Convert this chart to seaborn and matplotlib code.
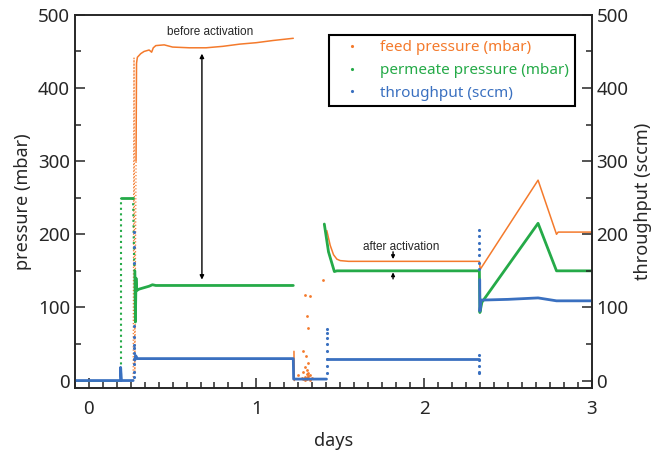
import matplotlib.pyplot as plt
import seaborn as sns
import pandas as pd
from matplotlib.lines import Line2D
from matplotlib.ticker import MultipleLocator

sns.set_style('ticks')
plt.rcParams['font.family'] = ['Noto Sans', 'DejaVu Sans']

ORANGE = '#F47A2C'
GREEN = '#25AA48'
BLUE = '#3A70C0'

# feed pressure (mbar), one list per unbroken stretch
feed_jump_days = [0.265, 0.27, 0.275, 0.282]
feed_jump_vals = [0, 441, 10, 300]
feed_days_1 = [0.282, 0.285, 0.29, 0.31, 0.33, 0.36, 0.375, 0.385,
               0.40, 0.45, 0.50, 0.60, 0.70, 0.80, 0.90, 1.00, 1.10, 1.22]
feed_vals_1 = [300, 434, 442, 447, 450, 452, 449, 455,
               458, 459, 456, 455, 455, 457, 460, 462, 465, 468]
feed_days_2 = [1.224, 1.226]
feed_vals_2 = [40, 0]
feed_days_3 = [1.42, 1.425, 1.44, 1.46, 1.48, 1.50, 1.55, 2.33, 2.335, 2.68, 2.79, 2.80, 3.0]
feed_vals_3 = [205, 200, 185, 172, 166, 164, 163, 163, 152, 274, 200, 203, 203]
feed_noise_days = [1.25, 1.27, 1.28, 1.28, 1.29, 1.29, 1.29, 1.30, 1.30, 1.30, 1.30, 1.31, 1.31,
                   1.31, 1.32, 1.32, 1.33, 1.29, 1.30, 1.31, 1.32, 1.28, 1.40, 1.295, 1.305]
feed_noise_vals = [8, 3, 12, 2, 5, 18, 1, 4, 9, 14, 2, 6, 11,
                   3, 7, 1, 4, 117, 88, 72, 115, 40, 138, 33, 24]

# permeate pressure (mbar)
perm_days_0 = [-0.083, 0.19]
perm_vals_0 = [0, 0]
perm_jump_days = [0.19, 0.19]
perm_jump_vals = [0, 250]
perm_days_1 = [0.19, 0.264]
perm_vals_1 = [250, 250]
perm_drop_days = [0.264, 0.272]
perm_drop_vals = [250, 150]
perm_days_2 = [0.275, 0.278, 0.282, 0.285, 0.30, 0.33, 0.36, 0.38, 0.40, 1.22]
perm_vals_2 = [150, 80, 140, 123, 125, 127, 129, 131, 130, 130]
perm_days_3 = [1.405, 1.43, 1.465, 1.48, 2.33, 2.333, 2.345, 2.68, 2.79, 3.0]
perm_vals_3 = [214, 176, 149, 150, 150, 93, 107, 215, 150, 150]

# throughput (sccm)
thru_days_1 = [-0.083, 0.19, 0.19, 0.195, 0.265]
thru_vals_1 = [0, 0, 18, 0, 0]
thru_days_2 = [0.275, 0.28, 0.29, 0.30, 1.22, 1.222, 1.418]
thru_vals_2 = [28, 34, 30, 30, 30, 2, 2]
thru_days_3 = [1.422, 2.33]
thru_vals_3 = [30, 30]
thru_days_4 = [2.332, 2.333, 2.34, 2.50, 2.68, 2.79, 3.0]
thru_vals_4 = [138, 95, 110, 111, 113, 109, 109]
thru_spike_days = [0.272] * 12 + [1.42] * 8 + [2.33] * 12
thru_spike_vals = [203, 183, 161, 74, 60, 49, 45, 38, 22, 12, 5, 30,
                   10, 20, 30, 40, 50, 58, 65, 70,
                   206, 197, 188, 180, 171, 161, 152, 35, 28, 20, 12, 10]

fig, ax = plt.subplots(figsize=(6.56, 4.51), dpi=100)
ax2 = ax.twinx()


def seg(axis, days, vals, color, lw, ls='-'):
    df = pd.DataFrame({'days': days, 'val': vals})
    sns.lineplot(data=df, x='days', y='val', sort=False, estimator=None,
                 color=color, lw=lw, ls=ls, ax=axis)


seg(ax, feed_jump_days, feed_jump_vals, ORANGE, 0.9, ':')
seg(ax, feed_days_1, feed_vals_1, ORANGE, 1.1)
seg(ax, feed_days_2, feed_vals_2, ORANGE, 1.1)
seg(ax, feed_days_3, feed_vals_3, ORANGE, 1.1)
sns.scatterplot(x=feed_noise_days, y=feed_noise_vals, color=ORANGE, s=4,
                linewidth=0, ax=ax)
seg(ax, perm_days_0, perm_vals_0, GREEN, 1.2)
seg(ax, perm_jump_days, perm_jump_vals, GREEN, 1.5, ':')
seg(ax, perm_days_1, perm_vals_1, GREEN, 2)
seg(ax, perm_drop_days, perm_drop_vals, GREEN, 1.5, ':')
seg(ax, perm_days_2, perm_vals_2, GREEN, 2)
seg(ax, perm_days_3, perm_vals_3, GREEN, 2)
seg(ax2, thru_days_1, thru_vals_1, BLUE, 2)
seg(ax2, thru_days_2, thru_vals_2, BLUE, 2)
seg(ax2, thru_days_3, thru_vals_3, BLUE, 2)
seg(ax2, thru_days_4, thru_vals_4, BLUE, 2)
sns.scatterplot(x=thru_spike_days, y=thru_spike_vals, color=BLUE, s=5,
                linewidth=0, ax=ax2)

for a in (ax, ax2):
    a.set_xlim(-1 / 12, 3)
    a.set_ylim(-10, 500)
    a.yaxis.set_major_locator(MultipleLocator(100))
    a.yaxis.set_minor_locator(MultipleLocator(50))
    for s in a.spines.values():
        s.set_linewidth(1.2)
        s.set_visible(True)
    a.tick_params(which='both', direction='in', labelsize=13.5, width=1.1)
    a.tick_params(which='major', length=7)
    a.tick_params(which='minor', length=4)

ax.xaxis.set_major_locator(MultipleLocator(1))
ax.xaxis.set_minor_locator(MultipleLocator(1 / 12))
ax.tick_params(axis='x', pad=9)

ax.set_xlabel('days', fontsize=13, labelpad=10)
ax.set_ylabel('pressure (mbar)', fontsize=13)
ax2.set_ylabel('throughput (sccm)', fontsize=13)
ax2.set_xlabel('')

# annotations
ax.text(0.722, 476, 'before activation', ha='center', va='center',
        fontsize=8.5, family=['Liberation Sans'])
ax.annotate('', xy=(0.675, 447), xytext=(0.675, 138),
            arrowprops=dict(arrowstyle='<|-|>', color='black', lw=1,
                            mutation_scale=6, shrinkA=0, shrinkB=0))
ax.text(1.865, 183, 'after activation', ha='center', va='center',
        fontsize=8.5, family=['Liberation Sans'])
ax.annotate('', xy=(1.815, 166), xytext=(1.815, 176),
            arrowprops=dict(arrowstyle='-|>', color='black', lw=1,
                            mutation_scale=5, shrinkA=0, shrinkB=0))
ax.annotate('', xy=(1.815, 148), xytext=(1.815, 139),
            arrowprops=dict(arrowstyle='-|>', color='black', lw=1,
                            mutation_scale=5, shrinkA=0, shrinkB=0))

handles = [Line2D([], [], ls='none', marker='.', markersize=2.5, color=c)
           for c in (ORANGE, GREEN, BLUE)]
labels = ['feed pressure (mbar)', 'permeate pressure (mbar)', 'throughput (sccm)']
leg = ax.legend(handles, labels, loc='upper right', bbox_to_anchor=(0.967, 0.946),
                fontsize=11, frameon=True, fancybox=False, framealpha=1,
                edgecolor='black', handlelength=2.3, handletextpad=0.7,
                borderpad=0.35, labelspacing=0.5, borderaxespad=0)
leg.get_frame().set_linewidth(1.5)
for t, c in zip(leg.get_texts(), (ORANGE, GREEN, BLUE)):
    t.set_color(c)

plt.subplots_adjust(left=0.114, right=0.902, top=0.967, bottom=0.14)
plt.savefig('out.png', dpi=100)
